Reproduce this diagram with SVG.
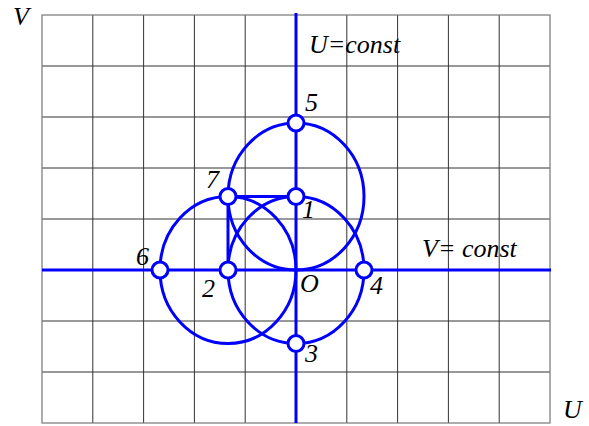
<svg xmlns="http://www.w3.org/2000/svg" width="589" height="426" viewBox="0 0 589 426">
<style>
.grid line{stroke:#333;stroke-width:1}
.border{fill:none;stroke:#777;stroke-width:1.2}
.blue{stroke:#0000ff;stroke-width:3;fill:none}
.node circle{fill:#fff;stroke:#0000ff;stroke-width:3}
.lbl{font-family:'Liberation Serif','DejaVu Serif',serif;font-style:italic;font-size:26px;fill:#000}
</style>
<rect width="589" height="426" fill="#fff"/>
<g id="grid" class="grid">
<line x1="92.8" y1="15" x2="92.8" y2="423"/>
<line x1="143.6" y1="15" x2="143.6" y2="423"/>
<line x1="194.4" y1="15" x2="194.4" y2="423"/>
<line x1="245.2" y1="15" x2="245.2" y2="423"/>
<line x1="346.8" y1="15" x2="346.8" y2="423"/>
<line x1="397.6" y1="15" x2="397.6" y2="423"/>
<line x1="448.4" y1="15" x2="448.4" y2="423"/>
<line x1="499.2" y1="15" x2="499.2" y2="423"/>
<line x1="42" y1="66" x2="550" y2="66"/>
<line x1="42" y1="117" x2="550" y2="117"/>
<line x1="42" y1="168" x2="550" y2="168"/>
<line x1="42" y1="219" x2="550" y2="219"/>
<line x1="42" y1="321" x2="550" y2="321"/>
<line x1="42" y1="372" x2="550" y2="372"/>
<rect class="border" x="42" y="15" width="508" height="408"/>
</g>
<text class="lbl" x="13" y="25">V</text>
<text class="lbl" x="563" y="418">U</text>
<text class="lbl" x="309" y="53">U=const</text>
<text class="lbl" x="422" y="257">V= const</text>
<g id="connectors" class="blue">
<line x1="296" y1="13" x2="296" y2="423"/>
<line x1="42" y1="270" x2="551" y2="270"/>
<ellipse cx="296" cy="196.5" rx="68" ry="73.5"/>
<ellipse cx="296" cy="270" rx="68" ry="73.5"/>
<ellipse cx="228" cy="270" rx="68" ry="73.5"/>
<polyline points="296,196.5 228,196.5 228,270"/>
</g>
<g id="node-O"><text class="lbl" x="300" y="292">O</text></g>
<g id="node-1" class="node"><circle cx="296" cy="196.5" r="8"/><text class="lbl" x="302" y="218">1</text></g>
<g id="node-2" class="node"><circle cx="228" cy="270" r="8"/><text class="lbl" x="202" y="297">2</text></g>
<g id="node-3" class="node"><circle cx="296" cy="343.5" r="8"/><text class="lbl" x="305" y="362">3</text></g>
<g id="node-4" class="node"><circle cx="364" cy="270" r="8"/><text class="lbl" x="370" y="294">4</text></g>
<g id="node-5" class="node"><circle cx="296" cy="123" r="8"/><text class="lbl" x="305" y="111">5</text></g>
<g id="node-6" class="node"><circle cx="160" cy="270" r="8"/><text class="lbl" x="136" y="265">6</text></g>
<g id="node-7" class="node"><circle cx="228" cy="196.5" r="8"/><text class="lbl" x="206" y="188">7</text></g>
</svg>
